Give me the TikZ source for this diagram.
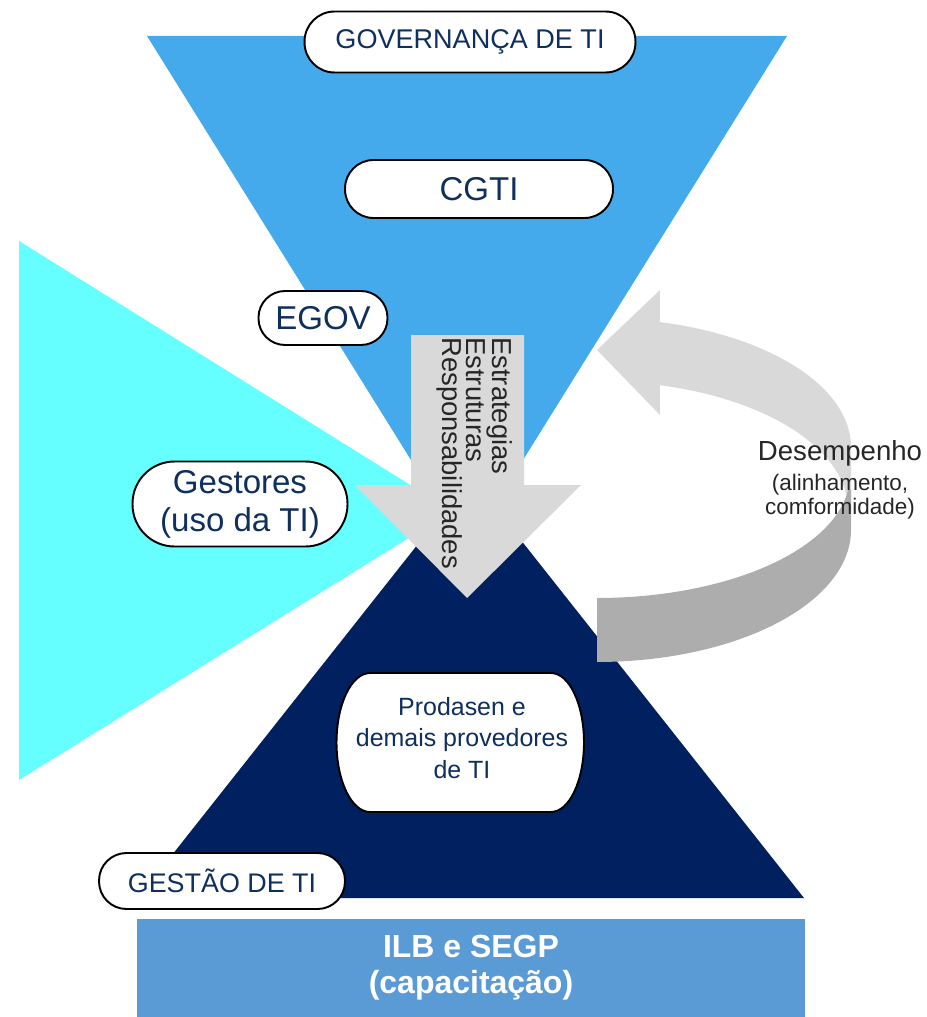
\documentclass[tikz,border=0pt]{standalone}
\usepackage{fontspec}
\setmainfont{Liberation Sans}
\usepackage{xcolor}
\usepackage{tikz}
\usetikzlibrary{positioning}

\definecolor{govblue}{HTML}{45AAEB}
\definecolor{gestnavy}{HTML}{002060}
\definecolor{usecyan}{HTML}{66FFFF}
\definecolor{capblue}{HTML}{5B9BD5}
\definecolor{arrowlight}{HTML}{D9D9D9}
\definecolor{arrowdark}{HTML}{ADADAD}
\definecolor{pilltext}{HTML}{0F2F5E}
\definecolor{graytext}{HTML}{262626}

\begin{document}
\begin{tikzpicture}[x=0.02cm, y=-0.02cm,
    pill/.style={rectangle, draw=black, line width=1.1pt, fill=white, text=pilltext, inner sep=0pt, align=center},
    graylabel/.style={text=graytext, inner sep=0pt}]
                \useasboundingbox (0,0) rectangle (926,1017);

                % Gestores (ciano)
                \fill[usecyan] (19,241) -- (19,780) -- (452,511) -- cycle;

                % Governanca (triangulo invertido)
                \fill[govblue] (147,36) -- (787,36) -- (467,550) -- cycle;

                % Gestao (triangulo)
                \fill[gestnavy] (138,898) -- (804,898) -- (471,477) -- cycle;

                % Seta para baixo
                \fill[arrowlight] (411,335) -- (524,335) -- (524,485) -- (581,485) -- (467,598) -- (355,485) -- (411,485) -- cycle;

                % Seta curva, parte clara com a ponta
                \fill[arrowlight] plot[domain=75.7:0, samples=40] ({597+254*cos(\x)}, {447-129*sin(\x)})
                    -- (851,510) -- (848,510)
                    -- plot[domain=0:75.5, samples=40] ({597+251*cos(\x)}, {510-129*sin(\x)})
                    -- (660,415) -- (597,350) -- (660,290) -- cycle;

                % Seta curva, parte escura
                \fill[arrowdark] (851,490) -- (851,530)
                    -- plot[domain=0:90, samples=40] ({597+254*cos(\x)}, {530+132*sin(\x)})
                    -- (597,598)
                    -- plot[domain=90:7, samples=40] ({597+253*cos(\x)}, {475+123*sin(\x)}) -- cycle;

                % Caixa do Prodasen
                \filldraw[fill=white, draw=black, line width=1.1pt] (370,673) -- (551,673)
                    arc[start angle=90, end angle=-90, x radius=0.66cm, y radius=1.39cm]
                    -- (370,812)
                    arc[start angle=270, end angle=90, x radius=0.67cm, y radius=1.39cm] -- cycle;

                % Rotulos
                \node[pill, rounded corners=0.6cm, minimum width=6.62cm, minimum height=1.22cm, font=\fontsize{15.4pt}{18pt}\selectfont] (governanca) at (470,42) {GOVERNANÇA DE TI};
                \node[pill, rounded corners=0.57cm, minimum width=5.36cm, minimum height=1.16cm, font=\fontsize{18.8pt}{22pt}\selectfont] (cgti) at (479,189) {CGTI};
                \node[pill, rounded corners=0.53cm, minimum width=2.58cm, minimum height=1.08cm, font=\fontsize{18.8pt}{22pt}\selectfont] (egov) at (323,318) {EGOV};
                \node[pill, rounded corners=0.84cm, minimum width=4.3cm, minimum height=1.7cm, font=\fontsize{18.8pt}{21.6pt}\selectfont] (gestores) at (240,504) {Gestores\\(uso da TI)};
                \node[pill, rounded corners=0.55cm, minimum width=4.92cm, minimum height=1.12cm, font=\fontsize{15.3pt}{18pt}\selectfont] (gestao) at (222,881) {GESTÃO DE TI};
                \node[text=pilltext, align=center, inner sep=0pt, font=\fontsize{14.2pt}{18pt}\selectfont] (prodasen) at (462,738) {Prodasen e\\demais provedores\\de TI};

                \node[graylabel, rotate=-90, anchor=north west, align=left, font=\fontsize{15.6pt}{13.7pt}\selectfont] (fluxo) at (513,337) {Estrategias\\Estruturas\\Responsabilidades};

                \node[graylabel, anchor=base, font=\fontsize{15.7pt}{18pt}\selectfont] (desempenho) at (840,460) {Desempenho};
                \node[graylabel, align=center, below=0.16cm of desempenho, font=\fontsize{12.8pt}{13.7pt}\selectfont] (desempenhosub) {(alinhamento,\\comformidade)};

                % Capacitacao
                \node[fill=capblue, text=white, align=center, minimum width=13.36cm, minimum height=1.96cm, inner sep=0pt, font=\bfseries\fontsize{18.2pt}{20.5pt}\selectfont] (ilb) at (471,968) {ILB e SEGP\\(capacitação)};
            \end{tikzpicture}
\end{document}
